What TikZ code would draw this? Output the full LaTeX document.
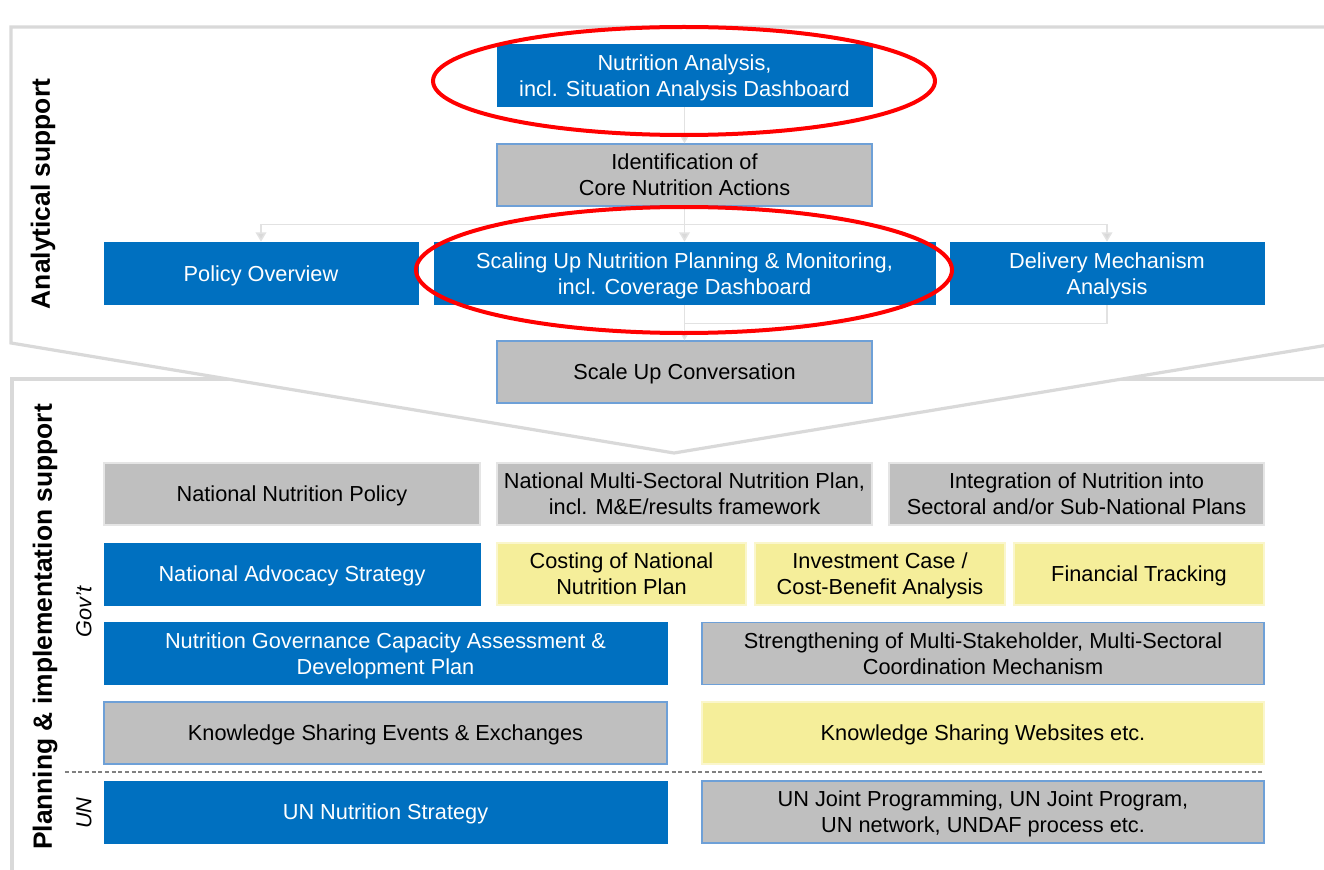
\documentclass[tikz,border=0pt]{standalone}
\usepackage{fontspec}
\setmainfont{Liberation Sans}
\usetikzlibrary{arrows.meta}

\definecolor{unblue}{RGB}{0,112,192}
\definecolor{boxgray}{RGB}{191,191,191}
\definecolor{boxyellow}{RGB}{245,238,154}
\definecolor{edgeblue}{RGB}{110,160,215}
\definecolor{framegray}{RGB}{217,217,217}
\definecolor{linkgray}{RGB}{226,226,226}

\tikzset{every picture/.style={line width=0.75pt}}
\tikzset{
  box/.style={rectangle, minimum height=46.5pt, inner sep=2pt, align=center,
    text depth=0pt, font=\fontsize{16.3}{19.5}\selectfont},
  bluebox/.style={box, fill=unblue, draw=unblue, text=white},
  graybox/.style={box, fill=boxgray, draw=edgeblue, line width=1pt},
  palebox/.style={box, fill=boxgray, draw=white!90!black, line width=1.5pt},
  yellowbox/.style={box, fill=boxyellow, draw=boxyellow!50!white, line width=1.5pt},
  link/.style={draw=linkgray, line width=1.1pt},
  linkarrow/.style={link, -{Triangle[width=8pt,length=7pt,fill=framegray]}},
  frame/.style={draw=framegray, line width=2.4pt},
  redring/.style={draw=red, line width=3pt},
  sidelabel/.style={rotate=90, font=\bfseries\fontsize{19.8}{22}\selectfont},
  grouplabel/.style={rotate=90, font=\itshape\fontsize{16.3}{19.5}\selectfont}
}

\begin{document}
\begin{tikzpicture}[x=0.75pt,y=0.75pt,yscale=-1,xscale=1]
    \useasboundingbox (0,0) rectangle (1324,870);
    \clip (0,0) rectangle (1324,870);

    %Frame: planning & implementation
    \draw[frame] (12,870) -- (12,379) -- (1340,379) ;
    %Frame: analytical, chevron
    \draw[frame, fill=white] (11,27) -- (1340,27) -- (1340,343) -- (674,453) -- (11,343) -- cycle ;

    % Analytical support
    \node[bluebox, minimum width=281.25pt] (nutra) at (684.5,76) {Nutrition Analysis,\\incl. Situation Analysis Dashboard};
    \node[graybox, minimum width=281.25pt] (ident) at (684.5,175) {Identification of\\Core Nutrition Actions};
    \node[bluebox, minimum width=235.5pt, minimum height=47pt] (policy) at (261,273.5) {Policy Overview};
    \node[bluebox, minimum width=375.75pt, minimum height=47pt] (sun) at (684.5,273.5) {Scaling Up Nutrition Planning \& Monitoring,\\incl. Coverage Dashboard};
    \node[bluebox, minimum width=235.5pt, minimum height=47pt] (deliv) at (1107,273.5) {Delivery Mechanism\\Analysis};
    \node[graybox, minimum width=281.25pt] (convo) at (684.5,372) {Scale Up Conversation};

    %Links
    \draw[linkarrow] (nutra) -- (ident) ;
    \draw[link] (ident.south) -- ++(0,18) coordinate (fork) ;
    \draw[linkarrow] (fork) -| (policy.north) ;
    \draw[linkarrow] (fork) -- (sun.north) ;
    \draw[linkarrow] (fork) -| (deliv.north) ;
    \draw[linkarrow] (sun) -- (convo) ;
    \draw[link] (deliv.south) -- ++(0,18) coordinate (join) -- (join -| sun.south) ;

    % Planning & implementation support
    \node[palebox, minimum width=282pt] (natpol) at (292,494) {National Nutrition Policy};
    \node[palebox, minimum width=281.25pt] (msnp) at (684.5,494) {National Multi-Sectoral Nutrition Plan,\\incl. M\&E/results framework};
    \node[palebox, minimum width=281.25pt] (integ) at (1076.5,494) {Integration of Nutrition into\\Sectoral and/or Sub-National Plans};

    \node[bluebox, minimum width=282pt] (advoc) at (292,574) {National Advocacy Strategy};
    \node[yellowbox, minimum width=186.75pt] (costing) at (621.5,574) {Costing of National\\Nutrition Plan};
    \node[yellowbox, minimum width=187.5pt] (invest) at (880,574) {Investment Case /\\Cost-Benefit Analysis};
    \node[yellowbox, minimum width=187.5pt] (fintrack) at (1139,574) {Financial Tracking};

    \node[bluebox, minimum width=422.25pt] (govcap) at (385.5,653.5) {Nutrition Governance Capacity Assessment \&\\Development Plan};
    \node[graybox, minimum width=421.5pt] (strength) at (983,653.5) {Strengthening of Multi-Stakeholder, Multi-Sectoral\\Coordination Mechanism};

    \node[graybox, minimum width=422.25pt] (kse) at (385.5,733) {Knowledge Sharing Events \& Exchanges};
    \node[yellowbox, minimum width=421.5pt] (ksw) at (983,733) {Knowledge Sharing Websites etc.};

    %Gov't / UN divider
    \draw[draw=black!50, line width=0.8pt, dash pattern=on 3pt off 2pt] (65,772) -- (1264,772) ;

    \node[bluebox, minimum width=422.25pt] (unstrat) at (385.5,812) {UN Nutrition Strategy};
    \node[graybox, minimum width=421.5pt] (unjoint) at (983,812) {UN Joint Programming, UN Joint Program,\\UN network, UNDAF process etc.};

    % Side labels
    \node[sidelabel] (analytic) at (43,194) {Analytical support};
    \node[sidelabel] (planning) at (45,627) {Planning \& implementation support};
    \node[grouplabel] (gov) at (84,612) {Gov't};
    \node[grouplabel] (un) at (84,813) {UN};

    %Highlight rings
    \draw[redring] (684,81) ellipse [x radius=251, y radius=54] ;
    \draw[redring] (684,270) ellipse [x radius=268, y radius=63] ;
\end{tikzpicture}
\end{document}
